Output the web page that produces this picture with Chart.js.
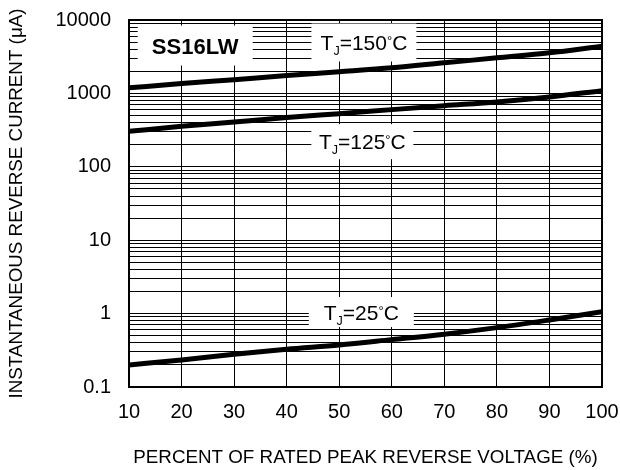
<!DOCTYPE html>
<html>
<head>
<meta charset="utf-8">
<script src="https://cdn.jsdelivr.net/npm/chart.js@4.4.1/dist/chart.umd.min.js"></script>
<style>
  html, body { margin: 0; padding: 0; background: #fff; }
  #wrap { width: 620px; height: 470px; }
</style>
</head>
<body>
<div id="wrap"><canvas id="chart" width="620" height="470"></canvas></div>
<script>
// Percent of rated peak reverse voltage
const voltagePercent = [10, 20, 30, 40, 50, 60, 70, 80, 90, 100];
// Instantaneous reverse current (uA)
const current150 = [1190, 1360, 1540, 1750, 1970, 2230, 2610, 3050, 3570, 4400];
const current125 = [304, 356, 408, 468, 530, 601, 680, 766, 895, 1090];
const current25 = [0.200, 0.233, 0.279, 0.327, 0.374, 0.442, 0.524, 0.644, 0.820, 1.06];
// Axis ticks
const xTicks = [10, 20, 30, 40, 50, 60, 70, 80, 90, 100];
const yDecades = [0.1, 1, 10, 100, 1000, 10000];
const yMinorSteps = [2, 3, 4, 5, 6, 7, 8, 9];
const tempNames = ['150', '125', '25'];

const FONT = "'Liberation Sans', Arial, sans-serif";

// every log grid line: decades plus 2..9 inside each one
const yGridValues = [];
yDecades.forEach((d, i) => {
  yGridValues.push(d);
  if (i < yDecades.length - 1) {
    yMinorSteps.forEach(s => yGridValues.push(d * s));
  }
});

// Label boxes, placed in data coordinates
const chartLabels = [
  { kind: 'name', text: 'SS16LW', x: 22.6, y: 4490, boxW: 115, boxH: 40 },
  { kind: 'temp', text: tempNames[0], x: 54.7, y: 4930, boxW: 105, boxH: 38 },
  { kind: 'temp', text: tempNames[1], x: 54.4, y: 220, boxW: 102, boxH: 35 },
  { kind: 'temp', text: tempNames[2], x: 54.2, y: 1.05, boxW: 105, boxH: 30 }
];

function drawTempLabel(ctx, temp, cx, cy) {
  const pieces = [
    { t: 'T', size: 21, dy: 0 },
    { t: 'J', size: 12.5, dy: 5 },
    { t: '=' + temp, size: 21, dy: 0 },
    { t: '\u00B0', size: 13, dy: -5 },
    { t: 'C', size: 21, dy: 0 }
  ];
  let total = 0;
  pieces.forEach(p => {
    ctx.font = p.size + 'px ' + FONT;
    p.w = ctx.measureText(p.t).width;
    total += p.w;
  });
  let x = cx - total / 2;
  const base = cy + 7.5;
  pieces.forEach(p => {
    ctx.font = p.size + 'px ' + FONT;
    ctx.fillText(p.t, x, base + p.dy);
    x += p.w;
  });
}

const labelPlugin = {
  id: 'labelBoxes',
  beforeDatasetsDraw(chart) {
    const ctx = chart.ctx;
    const xs = chart.scales.x;
    const ys = chart.scales.y;
    ctx.save();
    chartLabels.forEach(l => {
      const cx = xs.getPixelForValue(l.x);
      const cy = ys.getPixelForValue(l.y);
      ctx.fillStyle = '#fff';
      ctx.fillRect(cx - l.boxW / 2, cy - l.boxH / 2, l.boxW, l.boxH);
      ctx.fillStyle = '#000';
      ctx.textAlign = 'left';
      ctx.textBaseline = 'alphabetic';
      if (l.kind === 'name') {
        ctx.font = 'bold 22px ' + FONT;
        const w = ctx.measureText(l.text).width;
        ctx.fillText(l.text, cx - w / 2, cy + 8);
      } else {
        drawTempLabel(ctx, l.text, cx, cy);
      }
    });
    ctx.restore();
  }
};

const framePlugin = {
  id: 'frame',
  afterDatasetsDraw(chart) {
    const a = chart.chartArea;
    const ctx = chart.ctx;
    ctx.save();
    ctx.strokeStyle = '#000';
    ctx.lineWidth = 2;
    ctx.strokeRect(a.left, a.top, a.right - a.left, a.bottom - a.top);
    ctx.restore();
  }
};

function curve(values) {
  return {
    data: voltagePercent.map((v, i) => ({ x: v, y: values[i] })),
    borderColor: '#000',
    borderWidth: 5,
    borderCapStyle: 'round',
    pointRadius: 0,
    cubicInterpolationMode: 'monotone',
    fill: false
  };
}

new Chart(document.getElementById('chart'), {
  type: 'line',
  data: {
    datasets: [curve(current150), curve(current125), curve(current25)]
  },
  options: {
    responsive: false,
    animation: false,
    devicePixelRatio: 1,
    layout: { padding: { top: 20, right: 18, bottom: 0, left: 0 } },
    plugins: {
      legend: { display: false },
      tooltip: { enabled: false }
    },
    scales: {
      x: {
        type: 'linear',
        min: 10,
        max: 100,
        afterBuildTicks: scale => { scale.ticks = xTicks.map(v => ({ value: v })); },
        afterFit: scale => {
          scale.height = 83;
          scale.paddingLeft = 0;
          scale.paddingRight = 0;
        },
        ticks: {
          autoSkip: false,
          maxRotation: 0,
          padding: 13.5,
          color: '#000',
          font: { family: FONT, size: 20 }
        },
        grid: { color: '#000', lineWidth: 1, drawTicks: false },
        border: { color: '#000', width: 2 },
        title: {
          display: true,
          text: 'PERCENT OF RATED PEAK REVERSE VOLTAGE (%)',
          color: '#000',
          font: { family: FONT, size: 18.8 },
          padding: { top: 0, bottom: 0.5 }
        }
      },
      y: {
        type: 'logarithmic',
        min: 0.1,
        max: 10000,
        afterBuildTicks: scale => { scale.ticks = yGridValues.map(v => ({ value: v })); },
        afterFit: scale => {
          scale.width = 129;
          scale.paddingTop = 0;
          scale.paddingBottom = 0;
        },
        ticks: {
          autoSkip: false,
          padding: 18,
          color: '#000',
          font: { family: FONT, size: 20 },
          callback: value => yDecades.includes(value) ? String(value) : ''
        },
        grid: { color: '#000', lineWidth: 1, drawTicks: false },
        border: { color: '#000', width: 2 },
        title: {
          display: true,
          text: 'INSTANTANEOUS REVERSE CURRENT (\u03BCA)',
          color: '#000',
          font: { family: FONT, size: 18.8 },
          padding: { top: 5.5, bottom: 0 }
        }
      }
    }
  },
  plugins: [labelPlugin, framePlugin]
});
</script>
</body>
</html>
